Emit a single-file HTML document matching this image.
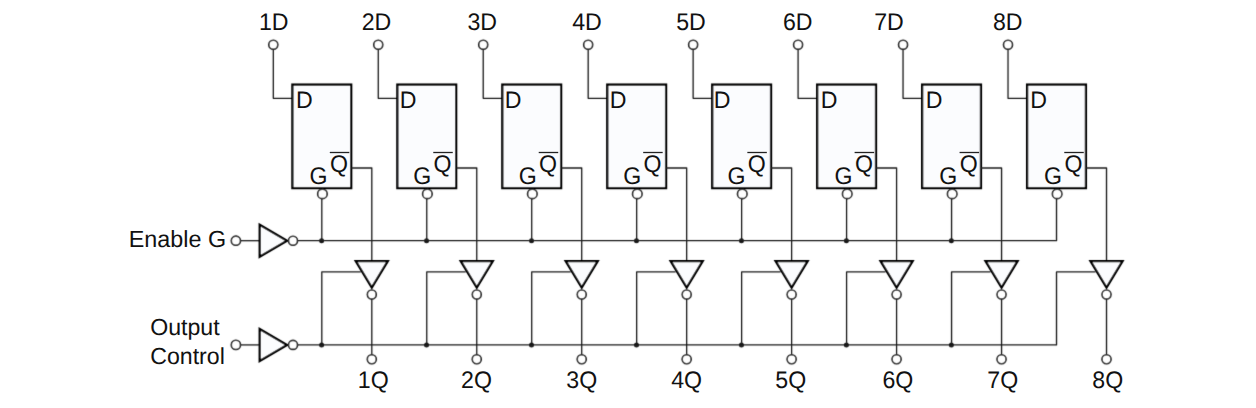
<!DOCTYPE html>
<html><head><meta charset="utf-8"><style>
html,body{margin:0;padding:0;background:#fff;}
svg{display:block;}
text{font-family:"Liberation Sans",sans-serif;font-size:23.15px;fill:#111;text-rendering:geometricPrecision;}
.w{fill:none;stroke:#1a1a1a;stroke-width:1.3;stroke-linejoin:round;}
.c{fill:#fff;stroke:#1a1a1a;stroke-width:1.6;}
.b{fill:#fbfcfe;stroke:#000;stroke-width:2.3;}
.t{fill:#fbfcfe;stroke:#000;stroke-width:2.3;stroke-linejoin:miter;}
</style></head><body>
<svg width="1256" height="408" viewBox="0 0 1256 408">
<defs><filter id="bl" x="0" y="0" width="1256" height="408" filterUnits="userSpaceOnUse"><feConvolveMatrix order="3" kernelMatrix="0.01134 0.08382 0.01134 0.08382 0.61935 0.08382 0.01134 0.08382 0.01134" divisor="1" edgeMode="none"/></filter></defs>
<rect width="1256" height="408" fill="#fff"/>
<g filter="url(#bl)">
<path d="M273.30 49.1V98.3H292.40" class="w"/>
<circle cx="273.30" cy="44.75" r="4.5" class="c"/>
<rect x="292.40" y="84.6" width="58.8" height="103.5" class="b"/>
<path d="M351.20 168.0H371.80V261.2" class="w"/>
<circle cx="322.40" cy="193.9" r="4.75" class="c"/>
<path d="M321.80 198.65V240.7" class="w"/>
<circle cx="321.60" cy="240.7" r="2.5" fill="#1a1a1a"/>
<circle cx="321.60" cy="345.0" r="2.5" fill="#1a1a1a"/>
<path d="M321.80 344.9V271.9H360.80" class="w"/>
<path d="M355.80 261.2H387.80L371.80 287.5Z" class="t"/>
<circle cx="371.80" cy="294.5" r="4.45" class="c"/>
<path d="M371.80 298.95V354.7" class="w"/>
<circle cx="371.80" cy="359.2" r="4.5" class="c"/>
<path d="M378.26 49.1V98.3H397.36" class="w"/>
<circle cx="378.26" cy="44.75" r="4.5" class="c"/>
<rect x="397.36" y="84.6" width="58.8" height="103.5" class="b"/>
<path d="M456.16 168.0H476.76V261.2" class="w"/>
<circle cx="427.36" cy="193.9" r="4.75" class="c"/>
<path d="M426.76 198.65V240.7" class="w"/>
<circle cx="426.56" cy="240.7" r="2.5" fill="#1a1a1a"/>
<circle cx="426.56" cy="345.0" r="2.5" fill="#1a1a1a"/>
<path d="M426.76 344.9V271.9H465.76" class="w"/>
<path d="M460.76 261.2H492.76L476.76 287.5Z" class="t"/>
<circle cx="476.76" cy="294.5" r="4.45" class="c"/>
<path d="M476.76 298.95V354.7" class="w"/>
<circle cx="476.76" cy="359.2" r="4.5" class="c"/>
<path d="M483.22 49.1V98.3H502.32" class="w"/>
<circle cx="483.22" cy="44.75" r="4.5" class="c"/>
<rect x="502.32" y="84.6" width="58.8" height="103.5" class="b"/>
<path d="M561.12 168.0H581.72V261.2" class="w"/>
<circle cx="532.32" cy="193.9" r="4.75" class="c"/>
<path d="M531.72 198.65V240.7" class="w"/>
<circle cx="531.52" cy="240.7" r="2.5" fill="#1a1a1a"/>
<circle cx="531.52" cy="345.0" r="2.5" fill="#1a1a1a"/>
<path d="M531.72 344.9V271.9H570.72" class="w"/>
<path d="M565.72 261.2H597.72L581.72 287.5Z" class="t"/>
<circle cx="581.72" cy="294.5" r="4.45" class="c"/>
<path d="M581.72 298.95V354.7" class="w"/>
<circle cx="581.72" cy="359.2" r="4.5" class="c"/>
<path d="M588.18 49.1V98.3H607.28" class="w"/>
<circle cx="588.18" cy="44.75" r="4.5" class="c"/>
<rect x="607.28" y="84.6" width="58.8" height="103.5" class="b"/>
<path d="M666.08 168.0H686.68V261.2" class="w"/>
<circle cx="637.28" cy="193.9" r="4.75" class="c"/>
<path d="M636.68 198.65V240.7" class="w"/>
<circle cx="636.48" cy="240.7" r="2.5" fill="#1a1a1a"/>
<circle cx="636.48" cy="345.0" r="2.5" fill="#1a1a1a"/>
<path d="M636.68 344.9V271.9H675.68" class="w"/>
<path d="M670.68 261.2H702.68L686.68 287.5Z" class="t"/>
<circle cx="686.68" cy="294.5" r="4.45" class="c"/>
<path d="M686.68 298.95V354.7" class="w"/>
<circle cx="686.68" cy="359.2" r="4.5" class="c"/>
<path d="M693.14 49.1V98.3H712.24" class="w"/>
<circle cx="693.14" cy="44.75" r="4.5" class="c"/>
<rect x="712.24" y="84.6" width="58.8" height="103.5" class="b"/>
<path d="M771.04 168.0H791.64V261.2" class="w"/>
<circle cx="742.24" cy="193.9" r="4.75" class="c"/>
<path d="M741.64 198.65V240.7" class="w"/>
<circle cx="741.44" cy="240.7" r="2.5" fill="#1a1a1a"/>
<circle cx="741.44" cy="345.0" r="2.5" fill="#1a1a1a"/>
<path d="M741.64 344.9V271.9H780.64" class="w"/>
<path d="M775.64 261.2H807.64L791.64 287.5Z" class="t"/>
<circle cx="791.64" cy="294.5" r="4.45" class="c"/>
<path d="M791.64 298.95V354.7" class="w"/>
<circle cx="791.64" cy="359.2" r="4.5" class="c"/>
<path d="M798.10 49.1V98.3H817.20" class="w"/>
<circle cx="798.10" cy="44.75" r="4.5" class="c"/>
<rect x="817.20" y="84.6" width="58.8" height="103.5" class="b"/>
<path d="M876.00 168.0H896.60V261.2" class="w"/>
<circle cx="847.20" cy="193.9" r="4.75" class="c"/>
<path d="M846.60 198.65V240.7" class="w"/>
<circle cx="846.40" cy="240.7" r="2.5" fill="#1a1a1a"/>
<circle cx="846.40" cy="345.0" r="2.5" fill="#1a1a1a"/>
<path d="M846.60 344.9V271.9H885.60" class="w"/>
<path d="M880.60 261.2H912.60L896.60 287.5Z" class="t"/>
<circle cx="896.60" cy="294.5" r="4.45" class="c"/>
<path d="M896.60 298.95V354.7" class="w"/>
<circle cx="896.60" cy="359.2" r="4.5" class="c"/>
<path d="M903.06 49.1V98.3H922.16" class="w"/>
<circle cx="903.06" cy="44.75" r="4.5" class="c"/>
<rect x="922.16" y="84.6" width="58.8" height="103.5" class="b"/>
<path d="M980.96 168.0H1001.56V261.2" class="w"/>
<circle cx="952.16" cy="193.9" r="4.75" class="c"/>
<path d="M951.56 198.65V240.7" class="w"/>
<circle cx="951.36" cy="240.7" r="2.5" fill="#1a1a1a"/>
<circle cx="951.36" cy="345.0" r="2.5" fill="#1a1a1a"/>
<path d="M951.56 344.9V271.9H990.56" class="w"/>
<path d="M985.56 261.2H1017.56L1001.56 287.5Z" class="t"/>
<circle cx="1001.56" cy="294.5" r="4.45" class="c"/>
<path d="M1001.56 298.95V354.7" class="w"/>
<circle cx="1001.56" cy="359.2" r="4.5" class="c"/>
<path d="M1008.02 49.1V98.3H1027.12" class="w"/>
<circle cx="1008.02" cy="44.75" r="4.5" class="c"/>
<rect x="1027.12" y="84.6" width="58.8" height="103.5" class="b"/>
<path d="M1085.92 168.0H1106.52V261.2" class="w"/>
<circle cx="1057.12" cy="193.9" r="4.75" class="c"/>
<path d="M297.5 344.9H1056.52V271.9H1095.52" class="w"/>
<path d="M297.5 240.7H1056.52V198.65" class="w"/>
<path d="M1090.52 261.2H1122.52L1106.52 287.5Z" class="t"/>
<circle cx="1106.52" cy="294.5" r="4.45" class="c"/>
<path d="M1106.52 298.95V354.7" class="w"/>
<circle cx="1106.52" cy="359.2" r="4.5" class="c"/>
<path d="M240.5 240.70H259.7" class="w"/>
<circle cx="235.9" cy="240.70" r="4.6" class="c"/>
<path d="M259.7 224.70V256.70L287 240.70Z" class="t"/>
<circle cx="293" cy="240.70" r="4.5" class="c"/>
<path d="M240.5 344.90H259.7" class="w"/>
<circle cx="235.9" cy="344.90" r="4.6" class="c"/>
<path d="M259.7 328.90V360.90L287 344.90Z" class="t"/>
<circle cx="293" cy="344.90" r="4.5" class="c"/>
</g>
<text transform="matrix(1 0 0 1.035 273.80 30.25)" text-anchor="middle">1D</text>
<text transform="matrix(1 0 0 1.03 373.20 387.90)" text-anchor="middle">1Q</text>
<text transform="matrix(1 0 0 1.03 295.90 108.30)">D</text>
<text transform="matrix(1 0 0 1.035 309.60 184.10)">G</text>
<text transform="matrix(1 0 0 1.04 330.10 171.90)">Q</text>
<path d="M329.80 152.5H349.30" fill="none" stroke="#222" stroke-width="1.3"/>
<text transform="matrix(1 0 0 1.035 376.46 30.25)" text-anchor="middle">2D</text>
<text transform="matrix(1 0 0 1.03 476.46 387.90)" text-anchor="middle">2Q</text>
<text transform="matrix(1 0 0 1.03 399.76 108.30)">D</text>
<text transform="matrix(1 0 0 1.035 413.36 184.10)">G</text>
<text transform="matrix(1 0 0 1.04 433.56 171.90)">Q</text>
<path d="M433.26 152.5H452.76" fill="none" stroke="#222" stroke-width="1.3"/>
<text transform="matrix(1 0 0 1.035 482.22 30.25)" text-anchor="middle">3D</text>
<text transform="matrix(1 0 0 1.03 581.72 387.90)" text-anchor="middle">3Q</text>
<text transform="matrix(1 0 0 1.03 504.82 108.30)">D</text>
<text transform="matrix(1 0 0 1.035 518.82 184.10)">G</text>
<text transform="matrix(1 0 0 1.04 539.02 171.90)">Q</text>
<path d="M538.72 152.5H558.22" fill="none" stroke="#222" stroke-width="1.3"/>
<text transform="matrix(1 0 0 1.035 586.98 30.25)" text-anchor="middle">4D</text>
<text transform="matrix(1 0 0 1.03 686.68 387.90)" text-anchor="middle">4Q</text>
<text transform="matrix(1 0 0 1.03 609.78 108.30)">D</text>
<text transform="matrix(1 0 0 1.035 623.28 184.10)">G</text>
<text transform="matrix(1 0 0 1.04 643.48 171.90)">Q</text>
<path d="M643.18 152.5H662.68" fill="none" stroke="#222" stroke-width="1.3"/>
<text transform="matrix(1 0 0 1.035 691.04 30.25)" text-anchor="middle">5D</text>
<text transform="matrix(1 0 0 1.03 790.74 387.90)" text-anchor="middle">5Q</text>
<text transform="matrix(1 0 0 1.03 713.74 108.30)">D</text>
<text transform="matrix(1 0 0 1.035 727.59 184.10)">G</text>
<text transform="matrix(1 0 0 1.04 747.64 171.90)">Q</text>
<path d="M747.34 152.5H766.84" fill="none" stroke="#222" stroke-width="1.3"/>
<text transform="matrix(1 0 0 1.035 797.70 30.25)" text-anchor="middle">6D</text>
<text transform="matrix(1 0 0 1.03 897.85 387.90)" text-anchor="middle">6Q</text>
<text transform="matrix(1 0 0 1.03 820.70 108.30)">D</text>
<text transform="matrix(1 0 0 1.035 834.50 184.10)">G</text>
<text transform="matrix(1 0 0 1.04 854.90 171.90)">Q</text>
<path d="M854.60 152.5H874.10" fill="none" stroke="#222" stroke-width="1.3"/>
<text transform="matrix(1 0 0 1.035 888.96 30.25)" text-anchor="middle">7D</text>
<text transform="matrix(1 0 0 1.03 1002.81 387.90)" text-anchor="middle">7Q</text>
<text transform="matrix(1 0 0 1.03 925.66 108.30)">D</text>
<text transform="matrix(1 0 0 1.035 939.36 184.10)">G</text>
<text transform="matrix(1 0 0 1.04 959.86 171.90)">Q</text>
<path d="M959.56 152.5H979.06" fill="none" stroke="#222" stroke-width="1.3"/>
<text transform="matrix(1 0 0 1.035 1007.77 30.25)" text-anchor="middle">8D</text>
<text transform="matrix(1 0 0 1.03 1107.77 387.90)" text-anchor="middle">8Q</text>
<text transform="matrix(1 0 0 1.03 1030.22 108.30)">D</text>
<text transform="matrix(1 0 0 1.035 1044.12 184.10)">G</text>
<text transform="matrix(1 0 0 1.04 1064.57 171.90)">Q</text>
<path d="M1064.27 152.5H1083.77" fill="none" stroke="#222" stroke-width="1.3"/>
<text font-size="23.35" style="font-size:23.35px" transform="matrix(1 0 0 1.0 128.80 247.00)">Enable G</text>
<text transform="matrix(1 0 0 1.0 150.20 335.10)">Output</text>
<text transform="matrix(1 0 0 1.0 150.20 363.90)">Control</text>
</svg>
</body></html>
